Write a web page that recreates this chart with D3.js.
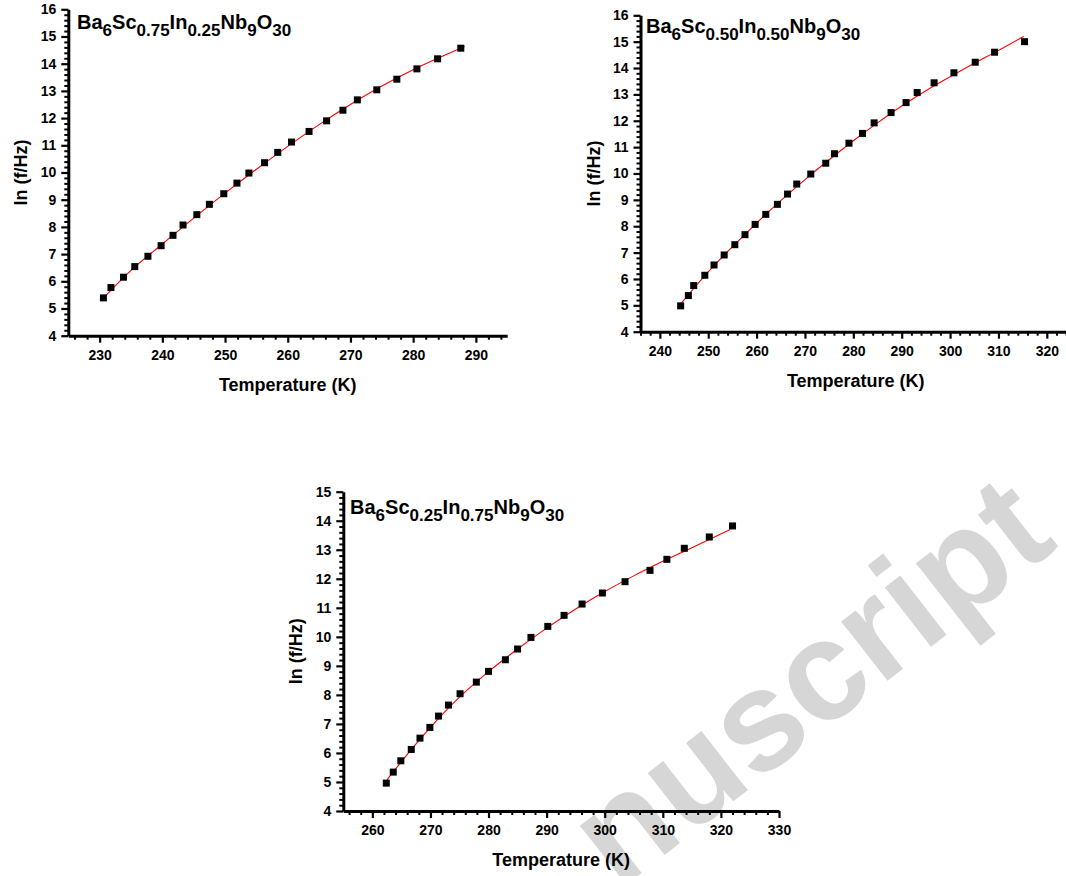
<!DOCTYPE html>
<html><head><meta charset="utf-8">
<script src="https://cdn.jsdelivr.net/npm/d3@7"></script>
<style>
body{margin:0;background:#fff;}
svg{display:block;font-family:"Liberation Sans",Arial,sans-serif;}
</style></head><body>
<svg id="c" width="1066" height="876"></svg>
<script>
// ---------- data ----------
const temp1 = [230.6,231.8,233.8,235.6,237.7,239.8,241.7,243.3,245.5,247.5,249.8,251.9,253.8,256.3,258.4,260.6,263.4,266.2,268.8,271.1,274.2,277.4,280.6,283.9,287.6];
const lnf1  = [5.39,5.77,6.15,6.54,6.92,7.31,7.69,8.07,8.45,8.83,9.22,9.61,9.98,10.36,10.74,11.12,11.51,11.90,12.29,12.67,13.04,13.43,13.81,14.18,14.57];
const fitT1 = [230.6,235,240,245,250,255,260,265,270,275,280,285,288.2];
const fitL1 = [5.38,6.40,7.37,8.32,9.24,10.12,10.96,11.76,12.50,13.18,13.78,14.31,14.63];

const temp2 = [244.3,245.9,247.0,249.3,251.2,253.3,255.5,257.6,259.7,261.9,264.3,266.4,268.3,271.2,274.3,276.1,279.1,281.9,284.3,287.8,290.9,293.2,296.7,300.8,305.2,309.2,315.4];
const lnf2  = [4.98,5.37,5.75,6.14,6.53,6.91,7.30,7.68,8.07,8.45,8.83,9.22,9.60,9.98,10.39,10.75,11.15,11.52,11.92,12.31,12.69,13.07,13.44,13.82,14.22,14.60,15.00];
const fitT2 = [244.3,250,255,260,265,270,275,280,285,290,295,300,305,310,315.2];
const fitL2 = [5.05,6.27,7.22,8.12,8.97,9.77,10.52,11.24,11.92,12.56,13.14,13.67,14.18,14.67,15.20];

const temp3 = [262.4,263.6,264.9,266.7,268.2,269.9,271.4,273.1,275.1,277.9,280.0,282.9,285.0,287.3,290.2,293.0,296.1,299.6,303.5,307.8,310.7,313.7,318.0,322.0];
const lnf3  = [4.96,5.34,5.73,6.12,6.51,6.88,7.27,7.65,8.04,8.44,8.81,9.21,9.58,9.98,10.36,10.74,11.13,11.51,11.90,12.29,12.67,13.05,13.44,13.82];
const fitT3 = [262.5,265,270,275,280,285,290,295,300,305,310,315,321.6];
const fitL3 = [5.07,5.70,6.88,7.92,8.80,9.58,10.30,10.96,11.56,12.10,12.60,13.07,13.70];

const xTicks1 = [230,240,250,260,270,280,290];
const xTicks2 = [240,250,260,270,280,290,300,310,320];
const xTicks3 = [260,270,280,290,300,310,320,330];
const yTicks1 = [4,5,6,7,8,9,10,11,12,13,14,15,16];
const yTicks2 = [4,5,6,7,8,9,10,11,12,13,14,15,16];
const yTicks3 = [4,5,6,7,8,9,10,11,12,13,14,15];

const comp1 = [["Ba",0],["6",1],["Sc",0],["0.75",1],["In",0],["0.25",1],["Nb",0],["9",1],["O",0],["30",1]];
const comp2 = [["Ba",0],["6",1],["Sc",0],["0.50",1],["In",0],["0.50",1],["Nb",0],["9",1],["O",0],["30",1]];
const comp3 = [["Ba",0],["6",1],["Sc",0],["0.25",1],["In",0],["0.75",1],["Nb",0],["9",1],["O",0],["30",1]];

const xTitle = "Temperature (K)";
const yTitle = "ln (f/Hz)";
const watermark = "nuscript";

// ---------- drawing ----------
const svg = d3.select("#c");

// watermark underneath
svg.append("text")
  .attr("transform","translate(1060,546) rotate(-38)")
  .attr("text-anchor","end")
  .attr("font-size",142).attr("font-weight","bold")
  .attr("fill","#d6d6d6")
  .text(watermark);

const panels = [
  {T:temp1,L:lnf1,fT:fitT1,fL:fitL1,xt:xTicks1,yt:yTicks1,comp:comp1,
   xd:[225,295],xr:[68.3,507.2],yd:[4,16],yr:[335.7,9.3],lab:[77,29]},
  {T:temp2,L:lnf2,fT:fitT2,fL:fitL2,xt:xTicks2,yt:yTicks2,comp:comp2,
   xd:[236,325],xr:[640.5,1071],yd:[4,16],yr:[331.7,15.3],lab:[646,33]},
  {T:temp3,L:lnf3,fT:fitT3,fL:fitL3,xt:xTicks3,yt:yTicks3,comp:comp3,
   xd:[255,330],xr:[343.3,779],yd:[4,15],yr:[811,491.7],lab:[350,514]}
];

function minorVals(d0,d1,step,majors){
  const out=[];
  const s=Math.ceil(d0/step-1e-9);
  for(let i=s;i*step<=d1+1e-9;i++){
    const v=+(i*step).toFixed(4);
    if(!majors.some(m=>Math.abs(m-v)<1e-6)) out.push(v);
  }
  return out;
}

panels.forEach(p=>{
  const g = svg.append("g");
  const x = d3.scaleLinear().domain(p.xd).range(p.xr);
  const y = d3.scaleLinear().domain(p.yd).range(p.yr);
  const x0 = p.xr[0], yB = p.yr[0];

  // minor ticks
  const xm = g.append("g").attr("transform",`translate(0,${yB})`)
    .call(d3.axisBottom(x).tickValues(minorVals(p.xd[0],p.xd[1],2,p.xt)).tickSize(4).tickFormat(""));
  const ym = g.append("g").attr("transform",`translate(${x0},0)`)
    .call(d3.axisLeft(y).tickValues(minorVals(p.yd[0],p.yd[1],0.2,p.yt)).tickSize(4).tickFormat(""));
  [xm,ym].forEach(a=>{a.select(".domain").remove(); a.selectAll("line").attr("stroke","#000").attr("stroke-width",2);});

  // major axes
  const xa = g.append("g").attr("transform",`translate(0,${yB})`)
    .call(d3.axisBottom(x).tickValues(p.xt).tickSize(7).tickSizeOuter(0).tickPadding(7).tickFormat(d3.format("d")));
  const ya = g.append("g").attr("transform",`translate(${x0},0)`)
    .call(d3.axisLeft(y).tickValues(p.yt).tickSize(7).tickSizeOuter(0).tickPadding(5).tickFormat(d3.format("d")));
  [xa,ya].forEach(a=>{
    a.select(".domain").attr("stroke","#000").attr("stroke-width",3);
    a.selectAll(".tick line").attr("stroke","#000").attr("stroke-width",2.2);
    a.selectAll(".tick text").attr("fill","#000").attr("font-size",14).attr("font-weight","bold")
      .attr("font-family",'"Liberation Sans",Arial,sans-serif');
  });

  // fit line
  const pts = p.fT.map((t,i)=>[t,p.fL[i]]);
  g.append("path").datum(pts)
    .attr("fill","none").attr("stroke","#ff0000").attr("stroke-width",1.1)
    .attr("d",d3.line().x(d=>x(d[0])).y(d=>y(d[1])).curve(d3.curveMonotoneX));

  // markers
  const s = 7;
  g.selectAll("rect.pt").data(p.T.map((t,i)=>[t,p.L[i]])).enter().append("rect")
    .attr("class","pt")
    .attr("x",d=>x(d[0])-s/2).attr("y",d=>y(d[1])-s/2)
    .attr("width",s).attr("height",s).attr("fill","#000");

  // axis titles
  g.append("text")
    .attr("x",(p.xr[0]+p.xr[1])/2)
    .attr("y",yB+55).attr("text-anchor","middle")
    .attr("font-size",18).attr("font-weight","bold").text(xTitle);
  g.append("text")
    .attr("transform",`translate(${x0-41},${(p.yr[0]+p.yr[1])/2}) rotate(-90)`)
    .attr("text-anchor","middle")
    .attr("font-size",18).attr("font-weight","bold").text(yTitle);

  // compound label
  const t = g.append("text").attr("x",p.lab[0]).attr("y",p.lab[1]).attr("font-weight","bold");
  let cur=0;
  p.comp.forEach(([str,sub])=>{
    const target = sub?7:0;
    t.append("tspan").attr("dy",target-cur).attr("font-size",sub?17:20).text(str);
    cur=target;
  });
});
</script>
</body></html>
